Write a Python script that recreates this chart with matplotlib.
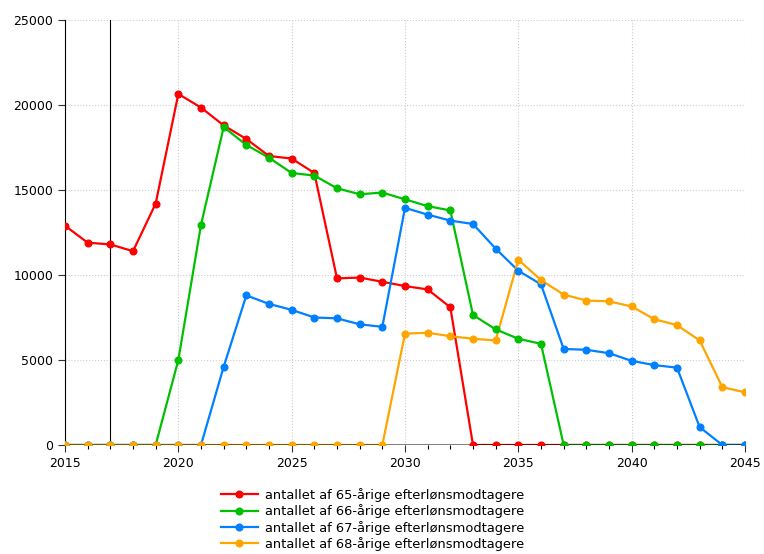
import numpy as np
import matplotlib
matplotlib.use("Agg")
from matplotlib import pyplot as plt
from matplotlib.lines import Line2D
from matplotlib.ticker import MultipleLocator

years = list(range(2015, 2046))

# antallet af efterlønsmodtagere
age65 = [12900, 11900, 11800, 11400, 14200, 20650, 19850, 18800, 18000, 17000,
         16850, 16000, 9800, 9850, 9600, 9350, 9150, 8100, 0, 0,
         0, 0, 0, 0, 0, 0, 0, 0, 0, 0, 0]
age66 = [0, 0, 0, 0, 0, 5000, 12950, 18700, 17650, 16900,
         16000, 15850, 15100, 14750, 14850, 14450, 14050, 13800, 7650, 6800,
         6250, 5950, 0, 0, 0, 0, 0, 0, 0, 0, 0]
age67 = [0, 0, 0, 0, 0, 0, 0, 4600, 8800, 8300,
         7950, 7500, 7450, 7100, 6950, 13950, 13550, 13200, 13000, 11550,
         10250, 9450, 5650, 5600, 5400, 4950, 4700, 4550, 1050, 0, 0]
age68 = [0, 0, 0, 0, 0, 0, 0, 0, 0, 0,
         0, 0, 0, 0, 0, 6550, 6600, 6400, 6250, 6150,
         10900, 9700, 8850, 8500, 8450, 8150, 7400, 7050, 6150, 3400, 3100]

series = [age65, age66, age67, age68]
labels = ["antallet af 65-årige efterlønsmodtagere",
          "antallet af 66-årige efterlønsmodtagere",
          "antallet af 67-årige efterlønsmodtagere",
          "antallet af 68-årige efterlønsmodtagere"]
colors = ["#ff0000", "#00c000", "#0080ff", "#ffa500"]

plt.rcParams['font.family'] = ['DejaVu Sans']

fig = plt.figure(figsize=(7.64, 5.54), dpi=100)
ax = fig.add_axes([65/764, 1 - 445/554, 680/764, 425/554])

handles = []
for vals, lab, col in zip(series, labels, colors):
    ax.plot(years, vals, '-', color=col, lw=1.6, zorder=2)
    ax.plot(years, vals, 'o', color=col, ms=4.8, zorder=4)
    handles.append(Line2D([], [], color=col, lw=1.6, marker='o', ms=4.8))

# dark zero line over the series
ax.axhline(0, color='black', lw=2, alpha=0.55, zorder=3)
ax.axvline(2017, color='black', lw=0.8, zorder=1)

ax.set_xlim(2015, 2045)
ax.set_ylim(0, 25000)
ax.set_xticks(range(2015, 2046, 5))
ax.set_yticks(range(0, 25001, 5000))
ax.xaxis.set_minor_locator(MultipleLocator(1))
ax.tick_params(labelsize=9, length=5, width=0.8, color='#333333')
ax.tick_params(which='minor', length=3, width=0.8)
ax.grid(True, linestyle=':', color='#cccccc', lw=0.8)
ax.set_axisbelow(True)

for s in ['top', 'right']:
    ax.spines[s].set_visible(False)
ax.spines['bottom'].set_visible(False)
ax.spines['left'].set_linewidth(0.8)

fig.legend(handles, labels, loc='upper center', bbox_to_anchor=(0.488, 0.131),
           frameon=False, fontsize=9.4, labelspacing=0.18, handlelength=2.8,
           handletextpad=0.6, borderpad=0)

fig.savefig("out.png", dpi=100)
